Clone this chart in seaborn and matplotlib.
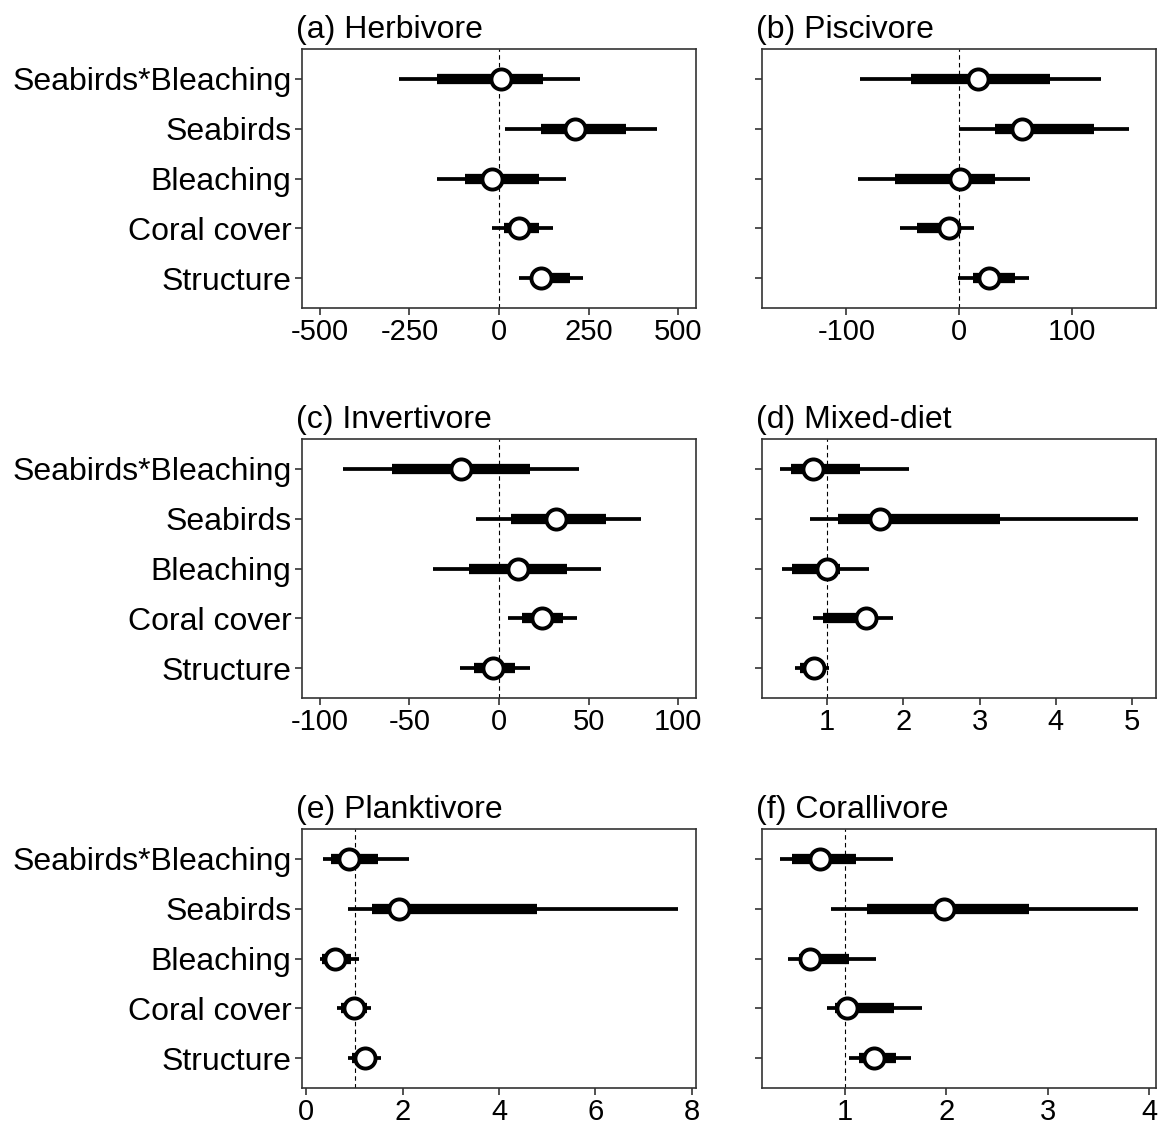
import numpy as np
import pandas as pd
import matplotlib
matplotlib.use("Agg")
import matplotlib.pyplot as plt
import seaborn as sns

sns.set_theme(style="white")
plt.rcParams['font.family'] = ['Liberation Sans', 'DejaVu Sans']

categories = ["Seabirds*Bleaching", "Seabirds", "Bleaching", "Coral cover", "Structure"]

# (a) Herbivore
herb_est = [6.5, 212, -19.5, 55, 116]
herb_in_lo = [-172, 116, -96, 14, 88]
herb_in_hi = [123, 355, 111, 113, 198]
herb_out_lo = [-279, 17, -172, -20, 56]
herb_out_hi = [226, 442, 188, 150, 235]

# (b) Piscivore
pisc_est = [16.7, 56, 0.6, -9.2, 27]
pisc_in_lo = [-43, 32, -57, -37, 12]
pisc_in_hi = [81, 120, 32, 2, 50]
pisc_out_lo = [-88, -0.3, -90, -52, -1.2]
pisc_out_hi = [126, 151, 63, 13, 62.5]

# (c) Invertivore
inv_est = [-21.4, 31.6, 10.6, 24, -3.2]
inv_in_lo = [-60, 6.5, -16.7, 13, -13.7]
inv_in_hi = [17.3, 60, 37.9, 35.7, 8.7]
inv_out_lo = [-87, -12.8, -36.6, 5.2, -21.9]
inv_out_hi = [44.8, 79.3, 57.2, 43.8, 17.3]

# (d) Mixed-diet
mix_est = [0.81, 1.69, 1.0, 1.51, 0.83]
mix_in_lo = [0.52, 1.14, 0.54, 0.94, 0.64]
mix_in_hi = [1.43, 3.27, 1.17, 1.50, 0.97]
mix_out_lo = [0.38, 0.78, 0.41, 0.81, 0.58]
mix_out_hi = [2.07, 5.08, 1.55, 1.87, 1.03]

# (e) Planktivore
plank_est = [0.88, 1.93, 0.59, 0.99, 1.21]
plank_in_lo = [0.51, 1.37, 0.33, 0.72, 0.95]
plank_in_hi = [1.48, 4.78, 0.92, 1.25, 1.42]
plank_out_lo = [0.34, 0.86, 0.28, 0.63, 0.86]
plank_out_hi = [2.14, 7.72, 1.10, 1.34, 1.54]

# (f) Corallivore
coral_est = [0.76, 1.98, 0.66, 1.02, 1.29]
coral_in_lo = [0.48, 1.22, 0.55, 0.90, 1.14]
coral_in_hi = [1.105, 2.81, 1.04, 1.48, 1.50]
coral_out_lo = [0.36, 0.86, 0.44, 0.82, 1.04]
coral_out_hi = [1.47, 3.89, 1.31, 1.76, 1.65]

titles = ["(a) Herbivore", "(b) Piscivore", "(c) Invertivore",
          "(d) Mixed-diet", "(e) Planktivore", "(f) Corallivore"]
ref_lines = [0, 0, 0, 1, 1, 1]
xticks_list = [[-500, -250, 0, 250, 500], [-100, 0, 100], [-100, -50, 0, 50, 100],
               [1, 2, 3, 4, 5], [0, 2, 4, 6, 8], [1, 2, 3, 4]]
xlims = [(-550, 550), (-175, 175), (-110, 110), None, None, None]

panels = [
    (herb_est, herb_in_lo, herb_in_hi, herb_out_lo, herb_out_hi),
    (pisc_est, pisc_in_lo, pisc_in_hi, pisc_out_lo, pisc_out_hi),
    (inv_est, inv_in_lo, inv_in_hi, inv_out_lo, inv_out_hi),
    (mix_est, mix_in_lo, mix_in_hi, mix_out_lo, mix_out_hi),
    (plank_est, plank_in_lo, plank_in_hi, plank_out_lo, plank_out_hi),
    (coral_est, coral_in_lo, coral_in_hi, coral_out_lo, coral_out_hi),
]

W, H = 1161, 1127
fig = plt.figure(figsize=(W / 100, H / 100), dpi=100)

col_left = [302, 762]
row_top = [49, 439, 829]
aw, ah = 394, 259

frame_col = "#333333"

for i, (est, ilo, ihi, olo, ohi) in enumerate(panels):
    r, c = divmod(i, 2)
    x0 = col_left[c]
    y0 = row_top[r]
    ax = fig.add_axes([x0 / W, 1 - (y0 + ah) / H, aw / W, ah / H])
    df = pd.DataFrame({"term": categories, "est": est, "ilo": ilo, "ihi": ihi,
                       "olo": olo, "ohi": ohi})
    df["pos"] = np.arange(len(categories))[::-1] + 1

    ax.axvline(ref_lines[i], color="black", lw=0.8, ls=(0, (4, 3)), zorder=1)
    ax.hlines(df["pos"], df["olo"], df["ohi"], color="black", lw=2.7,
              capstyle="butt", zorder=2)
    ax.hlines(df["pos"], df["ilo"], df["ihi"], color="black", lw=7.4,
              capstyle="butt", zorder=3)
    sns.scatterplot(data=df, x="est", y="pos", ax=ax, s=210, color="white",
                    edgecolor="black", linewidth=2.8, zorder=4, legend=False)

    ax.set_ylim(0.4, 5.6)
    if xlims[i] is not None:
        ax.set_xlim(*xlims[i])
    else:
        lo, hi = min(olo), max(ohi)
        pad = 0.05 * (hi - lo)
        ax.set_xlim(lo - pad, hi + pad)
    ax.set_xticks(xticks_list[i])
    ax.set_xticklabels([str(t) for t in xticks_list[i]])
    ax.set_yticks(df["pos"])
    if c == 0:
        ax.set_yticklabels(categories)
    else:
        ax.set_yticklabels([])
    ax.set_xlabel("")
    ax.set_ylabel("")
    ax.tick_params(axis="y", labelsize=23, length=5, width=1.2, color=frame_col,
                   pad=2.5, labelcolor="black", left=True)
    ax.tick_params(axis="x", labelsize=21, length=5, width=1.2, color=frame_col,
                   pad=2.5, labelcolor="black", bottom=True)
    for sp in ax.spines.values():
        sp.set_color(frame_col)
        sp.set_linewidth(1.2)
        sp.set_visible(True)
    ax.set_title(titles[i], loc="left", x=-0.015, pad=8, fontsize=23, color="black")

fig.savefig("out.png", dpi=100, facecolor="white")
